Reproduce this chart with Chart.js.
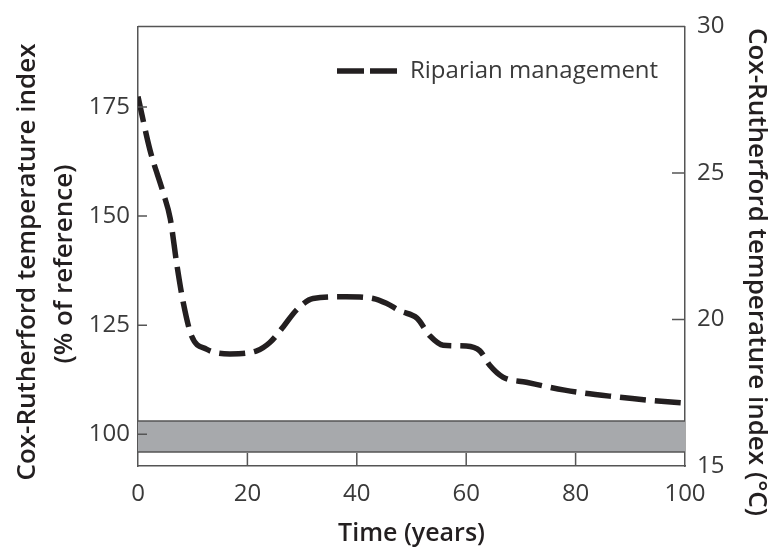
<!DOCTYPE html>
<html>
<head>
<meta charset="utf-8">
<script src="https://cdn.jsdelivr.net/npm/chart.js@4"></script>
<style>
  html, body { margin: 0; padding: 0; background: #fff; }
  #wrap { width: 771px; height: 551px; }
</style>
</head>
<body>
<div id="wrap"><canvas id="chart"></canvas></div>
<script>
// Riparian management curve (left axis, % of reference)
const years = [0, 2.2, 4.6, 5.9, 7.1, 8.3, 9.8, 12.5, 16.8, 21.7, 24.1, 26.6, 29, 32, 38, 43, 45.4, 48, 51, 53.4, 55.8, 60, 62.5, 64.3, 66.7, 71, 78, 87, 94, 100];
const tempIndex = [177.4, 165.1, 155.4, 149.4, 138.9, 130, 122.5, 119.5, 118.4, 119.1, 121, 124.7, 128.5, 131.1, 131.5, 131.1, 130, 128.2, 126.6, 122.5, 120.4, 120.2, 119.1, 115.8, 113.1, 111.9, 110.1, 108.6, 107.7, 107.1];

// Reference band around 100 %
const refYears = [0, 100];
const refUpper = [103, 103];
const refLower = [95.9, 95.9];

const xTicks = [0, 20, 40, 60, 80, 100];
const leftTicks = [100, 125, 150, 175];
const rightTicks = [15, 20, 25, 30];

const FONT = "'Open Sans', sans-serif";
const INK = '#231f20';
const AXIS = '#555555';

Chart.defaults.font.family = FONT;
Chart.defaults.color = '#3a3a3a';

const pts = (xs, ys) => xs.map((x, i) => ({ x: x, y: ys[i] }));

// frame top edge, inward tick marks, legend and the two y titles
const decor = {
  id: 'decor',
  afterDraw(chart) {
    const ctx = chart.ctx;
    const { left, right, top, bottom } = chart.chartArea;
    const sx = chart.scales.x, sy = chart.scales.y, sy2 = chart.scales.y2;
    ctx.save();
    ctx.strokeStyle = AXIS;
    ctx.lineWidth = 1.5;
    ctx.beginPath();
    ctx.moveTo(left, top);
    ctx.lineTo(right, top);
    xTicks.slice(1, -1).forEach(v => {
      const px = sx.getPixelForValue(v);
      ctx.moveTo(px, bottom);
      ctx.lineTo(px, bottom - 13);
    });
    leftTicks.forEach(v => {
      const py = sy.getPixelForValue(v);
      ctx.moveTo(left, py);
      ctx.lineTo(left + 9, py);
    });
    rightTicks.slice(1, -1).forEach(v => {
      const py = sy2.getPixelForValue(v);
      ctx.moveTo(right - 13, py);
      ctx.lineTo(right, py);
    });
    ctx.stroke();

    // legend
    ctx.strokeStyle = INK;
    ctx.lineWidth = 5.5;
    ctx.setLineDash([27, 6]);
    ctx.beginPath();
    ctx.moveTo(337, 71);
    ctx.lineTo(397, 71);
    ctx.stroke();
    ctx.setLineDash([]);
    ctx.fillStyle = '#3a3a3a';
    ctx.font = '24px ' + FONT;
    ctx.textAlign = 'left';
    ctx.textBaseline = 'middle';
    ctx.fillText('Riparian management', 410, 71);

    // y axis titles
    ctx.fillStyle = INK;
    ctx.font = '600 26px ' + FONT;
    ctx.textAlign = 'center';
    ctx.save();
    ctx.translate(28, 262);
    ctx.rotate(-Math.PI / 2);
    ctx.fillText('Cox-Rutherford temperature index', 0, 0);
    ctx.restore();
    ctx.save();
    ctx.translate(65, 264);
    ctx.rotate(-Math.PI / 2);
    ctx.fillText('(% of reference)', 0, 0);
    ctx.restore();
    ctx.save();
    ctx.translate(756, 272);
    ctx.rotate(Math.PI / 2);
    ctx.fillText('Cox-Rutherford temperature index (°C)', 0, 0);
    ctx.restore();
    ctx.restore();
  }
};

new Chart(document.getElementById('chart'), {
  type: 'line',
  data: {
    datasets: [
      {
        label: 'Riparian management',
        data: pts(years, tempIndex),
        borderColor: INK,
        borderWidth: 5.5,
        borderDash: [26, 9],
        borderCapStyle: 'butt',
        cubicInterpolationMode: 'monotone',
        pointRadius: 0,
        fill: false
      },
      {
        label: 'ref upper',
        data: pts(refYears, refUpper),
        borderColor: AXIS,
        borderWidth: 1.5,
        pointRadius: 0,
        fill: false
      },
      {
        label: 'ref lower',
        data: pts(refYears, refLower),
        borderColor: AXIS,
        borderWidth: 1.5,
        backgroundColor: '#a7a9ac',
        pointRadius: 0,
        fill: '-1'
      }
    ]
  },
  options: {
    responsive: true,
    maintainAspectRatio: false,
    animation: false,
    layout: { padding: { top: 17, left: 0, right: 0, bottom: 0 } },
    plugins: {
      legend: { display: false },
      tooltip: { enabled: false }
    },
    scales: {
      x: {
        type: 'linear',
        position: 'bottom',
        min: 0,
        max: 100,
        afterBuildTicks: s => { s.ticks = xTicks.map(v => ({ value: v })); },
        afterFit: s => { s.height = 85; },
        grid: { display: false, drawTicks: false },
        border: { display: true, color: AXIS, width: 1.5 },
        ticks: { padding: 14, maxRotation: 0, font: { size: 24 } },
        title: {
          display: true,
          text: 'Time (years)',
          color: INK,
          font: { size: 25, weight: '600' },
          padding: { top: 0, bottom: 2 }
        }
      },
      y: {
        type: 'linear',
        position: 'left',
        min: 92.7,
        max: 193.5,
        afterBuildTicks: s => { s.ticks = leftTicks.map(v => ({ value: v })); },
        afterFit: s => { s.width = 138; },
        grid: { display: false, drawTicks: false },
        border: { display: true, color: AXIS, width: 1.5 },
        ticks: { padding: 8, font: { size: 24 } }
      },
      y2: {
        type: 'linear',
        position: 'right',
        min: 15,
        max: 30,
        afterBuildTicks: s => { s.ticks = rightTicks.map(v => ({ value: v })); },
        afterFit: s => { s.width = 86; },
        grid: { display: false, drawTicks: false },
        border: { display: true, color: AXIS, width: 1.5 },
        ticks: { padding: 12, font: { size: 24 } }
      }
    }
  },
  plugins: [decor]
});
</script>
</body>
</html>
